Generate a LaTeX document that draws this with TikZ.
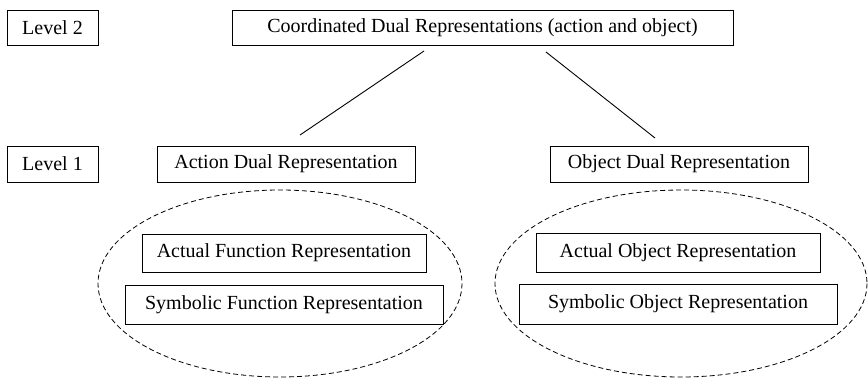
\documentclass[tikz,border=0pt]{standalone}
\usepackage{fontspec}
\setmainfont{Liberation Serif}
\begin{document}
\begin{tikzpicture}[x=1pt,y=-1pt,
  box/.style={draw,line width=0.9pt,inner sep=0pt,font=\fontsize{20}{24}\selectfont},
  conn/.style={line width=0.9pt},
  group/.style={draw,dashed,line width=0.8pt,dash pattern=on 5pt off 3pt}]
\useasboundingbox (0,0) rectangle (868,378);
\node[box,minimum width=91pt,minimum height=35pt] (l2) at (52.5,27.5) {Level 2};
\node[box,minimum width=501pt,minimum height=35pt] (coord) at (482.5,27.5) {Coordinated Dual Representations (action and object)};
\node[box,minimum width=91pt,minimum height=36pt] (l1) at (52.5,164) {Level 1};
\node[box,minimum width=258pt,minimum height=36pt] (act) at (286,164) {Action Dual Representation};
\node[box,minimum width=258pt,minimum height=36pt] (obj) at (679,164) {Object Dual Representation};
\draw[group] (280,283.5) ellipse [x radius=182, y radius=93.5];
\draw[group] (681,283.5) ellipse [x radius=186, y radius=93.5];
\node[box,minimum width=284pt,minimum height=38pt] (af) at (284,253) {Actual Function Representation};
\node[box,minimum width=318pt,minimum height=39pt] (sf) at (284,304.5) {Symbolic Function Representation};
\node[box,minimum width=284pt,minimum height=39pt] (ao) at (678,252.5) {Actual Object Representation};
\node[box,minimum width=318pt,minimum height=40pt] (so) at (678,304) {Symbolic Object Representation};
\coordinate (c1) at (424,51);
\coordinate (a1) at (300,135);
\coordinate (c2) at (546,52);
\coordinate (o1) at (655,138);
\draw[conn] (c1) -- (a1);
\draw[conn] (c2) -- (o1);
\end{tikzpicture}
\end{document}
